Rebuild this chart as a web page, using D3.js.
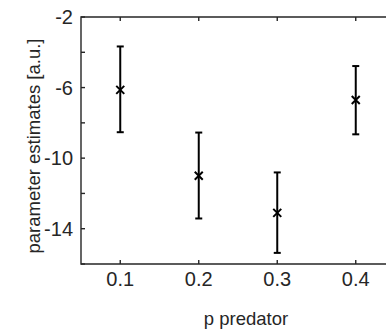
<!DOCTYPE html>
<html>
<head>
<meta charset="utf-8">
<script src="https://cdn.jsdelivr.net/npm/d3@7"></script>
<style>
  html, body { margin: 0; padding: 0; background: #fff; }
  svg { display: block; font-family: "Liberation Sans", Arial, sans-serif; }
</style>
</head>
<body>
<div id="chart"></div>
<script>
// data
const pPredator = [0.1, 0.2, 0.3, 0.4];
const estimates = [-6.13, -11.0, -13.1, -6.7];
const upper = [-3.67, -8.55, -10.81, -4.78];
const lower = [-8.53, -13.42, -15.37, -8.65];
const xTicks = [0.1, 0.2, 0.3, 0.4];
const yTicks = [-2, -6, -10, -14];
const yMinorTicks = [-4, -8, -12, -16];

const width = 386, height = 329;
const margin = { top: 17, left: 81, bottom: 65 };
const axisColor = '#262626';

const svg = d3.select('#chart').append('svg')
  .attr('width', width)
  .attr('height', height);

// plot box runs past the right edge of the picture
const x = d3.scaleLinear().domain([0.05, 0.45]).range([margin.left, 395]);
const y = d3.scaleLinear().domain([-16, -2]).range([height - margin.bottom, margin.top]);

const x0 = x.range()[0], x1 = x.range()[1];
const y0 = y.range()[0], y1 = y.range()[1];

// box lines
svg.append('path')
  .attr('d', `M${x1},${y1}H${x0}V${y0}H${x1}`)
  .attr('fill', 'none')
  .attr('stroke', axisColor)
  .attr('stroke-width', 1.4);

// ticks (inward, mirrored on top)
const tickLen = 4;
svg.append('g').selectAll('line')
  .data(xTicks)
  .join('line')
  .attr('x1', d => x(d)).attr('x2', d => x(d))
  .attr('y1', y0).attr('y2', y0 - tickLen)
  .attr('stroke', axisColor).attr('stroke-width', 1.4);
svg.append('g').selectAll('line')
  .data(xTicks)
  .join('line')
  .attr('x1', d => x(d)).attr('x2', d => x(d))
  .attr('y1', y1).attr('y2', y1 + tickLen)
  .attr('stroke', axisColor).attr('stroke-width', 1.4);
svg.append('g').selectAll('line')
  .data(yTicks.concat(yMinorTicks))
  .join('line')
  .attr('x1', x0).attr('x2', x0 + tickLen)
  .attr('y1', d => y(d)).attr('y2', d => y(d))
  .attr('stroke', axisColor).attr('stroke-width', 1.4);

// tick labels
svg.append('g').selectAll('text')
  .data(xTicks)
  .join('text')
  .attr('x', d => x(d))
  .attr('y', y0 + 22)
  .attr('text-anchor', 'middle')
  .attr('font-size', 20)
  .attr('fill', axisColor)
  .text(d => d3.format('.1f')(d));

svg.append('g').selectAll('text')
  .data(yTicks)
  .join('text')
  .attr('x', x0 - 8)
  .attr('y', d => y(d))
  .attr('dy', '0.36em')
  .attr('text-anchor', 'end')
  .attr('font-size', 20)
  .attr('fill', axisColor)
  .text(d => d);

// axis titles
svg.append('text')
  .attr('x', 246)
  .attr('y', 325)
  .attr('text-anchor', 'middle')
  .attr('font-size', 18.5)
  .attr('fill', axisColor)
  .text('p predator');

svg.append('text')
  .attr('transform', `translate(40,146) rotate(-90)`)
  .attr('text-anchor', 'middle')
  .attr('font-size', 18.5)
  .attr('fill', axisColor)
  .text('parameter estimates [a.u.]');

// error bars
const capW = 3.5;
const bars = svg.append('g')
  .attr('stroke', '#000')
  .attr('stroke-width', 2)
  .attr('fill', 'none');

pPredator.forEach((p, i) => {
  const cx = x(p);
  bars.append('line')
    .attr('x1', cx).attr('x2', cx)
    .attr('y1', y(upper[i])).attr('y2', y(lower[i]));
  bars.append('line')
    .attr('x1', cx - capW).attr('x2', cx + capW)
    .attr('y1', y(upper[i])).attr('y2', y(upper[i]));
  bars.append('line')
    .attr('x1', cx - capW).attr('x2', cx + capW)
    .attr('y1', y(lower[i])).attr('y2', y(lower[i]));
});

// x markers
const m = 4;
svg.append('g').selectAll('path')
  .data(pPredator)
  .join('path')
  .attr('d', (p, i) => {
    const cx = x(p), cy = y(estimates[i]);
    return `M${cx - m},${cy - m}L${cx + m},${cy + m}M${cx - m},${cy + m}L${cx + m},${cy - m}`;
  })
  .attr('stroke', '#000')
  .attr('stroke-width', 2);
</script>
</body>
</html>
